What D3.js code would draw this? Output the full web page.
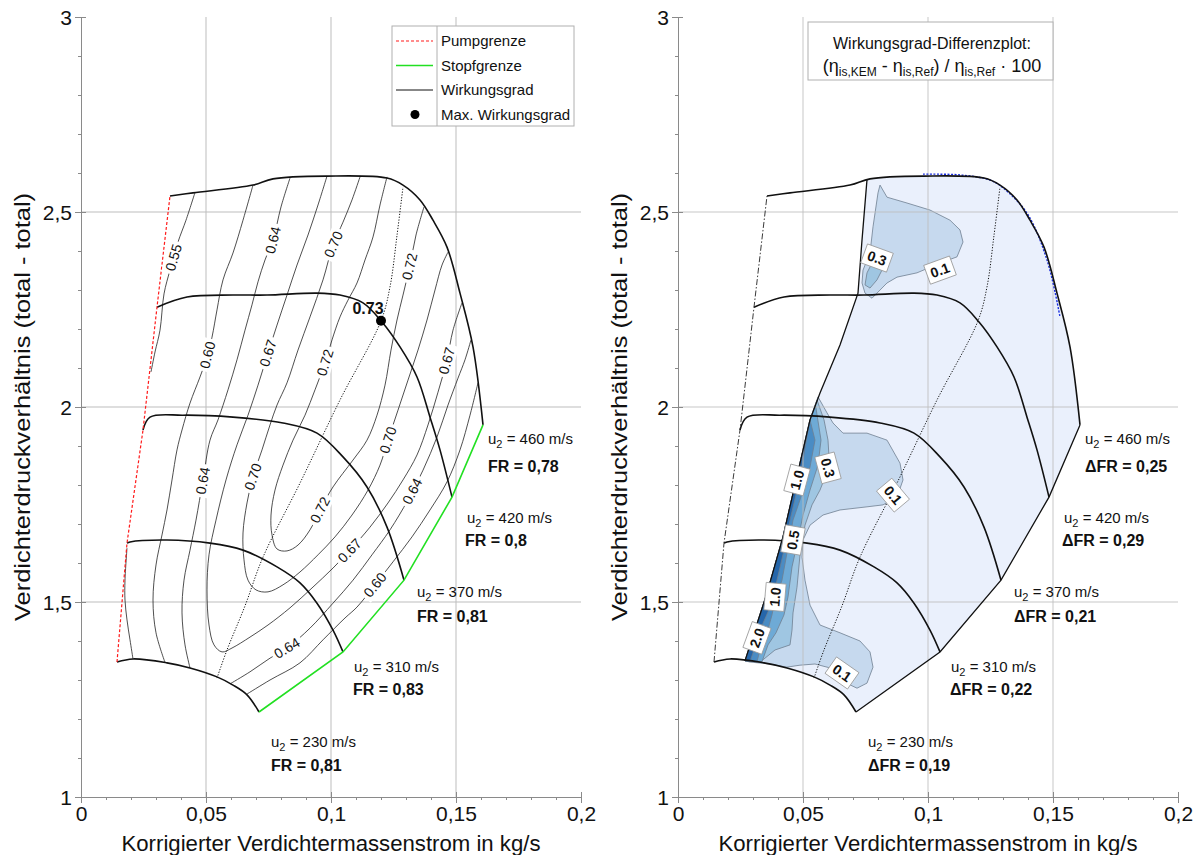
<!DOCTYPE html>
<html>
<head>
<meta charset="utf-8">
<script src="https://cdn.jsdelivr.net/npm/d3@7"></script>
<style>
  body { margin: 0; background: #fff; }
  text { font-family: "Liberation Sans", Arial, sans-serif; fill: #111; }
  .narrow { font-family: "Liberation Sans Narrow", "Arial Narrow", "Liberation Sans", sans-serif; font-stretch: condensed; }
</style>
</head>
<body>
<div id="chart"></div>
<script>
// ---------- data (mass flow kg/s, pressure ratio) ----------
var xTicks = [0, 0.05, 0.1, 0.15, 0.2];
var yTicks = [1, 1.5, 2, 2.5, 3];
var xGrid = [0.05, 0.1, 0.15];
var yGrid = [1.5, 2, 2.5];

var speeds = [230, 310, 370, 420, 460];
var frLeft = ["0,81", "0,83", "0,81", "0,8", "0,78"];
var frRight = ["0,19", "0,22", "0,21", "0,29", "0,25"];
var speedLabelPos = [[0.076, 1.128], [0.1092, 1.321], [0.1344, 1.513], [0.1544, 1.703], [0.1628, 1.905]];
var frLabelPos = [[0.076, 1.067], [0.1088, 1.262], [0.1344, 1.449], [0.1536, 1.644], [0.1628, 1.833]];

// speed lines, surge -> choke
var speed230 = [[.0144,1.346],[.0208,1.354],[.0344,1.344],[.0436,1.331],[.0544,1.308],[.0608,1.287],[.0664,1.262],[.0712,1.218]];
var speed310 = [[.0184,1.651],[.0196,1.654],[.0344,1.659],[.0516,1.651],[.0648,1.633],[.0784,1.59],[.0876,1.549],[.0944,1.497],[.1008,1.428],[.1048,1.372]];
var speed370 = [[.0248,1.941],[.0276,1.974],[.0408,1.979],[.0608,1.974],[.0808,1.959],[.0944,1.933],[.1048,1.872],[.1144,1.795],[.1224,1.692],[.1292,1.556]];
var speed420 = [[.0304,2.256],[.0424,2.282],[.0608,2.287],[.0744,2.287],[.0944,2.292],[.1036,2.287],[.1128,2.267],[.1204,2.218],[.1276,2.154],[.1344,2.077],[.1396,1.974],[.1436,1.89],[.1484,1.769]];
var speed460 = [[.0356,2.541],[.0448,2.549],[.0688,2.569],[.0768,2.585],[.0984,2.592],[.1224,2.587],[.1288,2.569],[.1356,2.531],[.1408,2.479],[.1464,2.41],[.1516,2.292],[.1568,2.154],[.1608,1.954]];
var speedLines = [speed230, speed310, speed370, speed420, speed460];

// line of best efficiency
var bestEffLine = [[.0544,1.305],[.0584,1.377],[.0656,1.49],[.0728,1.615],[.0876,1.805],[.1036,2.018],[.12,2.221],[.1236,2.308],[.1264,2.44],[.1288,2.564]];
var maxPoint = [0.12, 2.221];
var maxLabel = "0.73";
var maxLabelPos = [0.1148, 2.238];

// efficiency contours
var eff055a = [[.0456,2.55],[.042,2.479],[.0388,2.423],[.0356,2.351],[.0332,2.29],[.0316,2.197],[.0296,2.141],[.028,2.09]];
var eff055b = [[.0184,1.638],[.0176,1.556],[.0176,1.505],[.0184,1.454],[.0196,1.403],[.0208,1.354]];
var eff060a = [[.0688,2.569],[.0648,2.479],[.0608,2.395],[.0568,2.326],[.0544,2.249],[.0524,2.179],[.0504,2.128],[.0476,2.077],[.0436,2.01],[.0404,1.941],[.0384,1.89],[.0364,1.813],[.0344,1.736],[.0324,1.672],[.03,1.595],[.0288,1.505],[.03,1.421],[.0336,1.345]];
var eff060b = [[.0664,1.264],[.0756,1.3],[.0876,1.344],[.0968,1.403],[.1056,1.459],[.1104,1.487],[.1176,1.544],[.1248,1.603],[.1324,1.667],[.1396,1.736],[.1464,1.808],[.1516,1.89],[.1556,1.979],[.1588,2.062]];
var eff064a = [[.0836,2.587],[.08,2.513],[.0768,2.428],[.0736,2.377],[.0708,2.321],[.0684,2.262],[.0656,2.197],[.0624,2.121],[.0588,2.044],[.0548,1.967],[.0516,1.915],[.0488,1.813],[.046,1.71],[.0436,1.633],[.0412,1.556],[.0404,1.472],[.0416,1.39],[.0436,1.331]];
var eff064b = [[.0596,1.29],[.0676,1.321],[.0756,1.356],[.0824,1.382],[.0916,1.433],[.1008,1.497],[.1088,1.556],[.1164,1.621],[.1236,1.685],[.1308,1.762],[.1368,1.838],[.1424,1.923],[.1468,2.005],[.1508,2.074],[.1536,2.121],[.156,2.172]];
var eff067 = [[.0984,2.592],[.0948,2.518],[.0908,2.441],[.0864,2.364],[.0824,2.287],[.0784,2.21],[.0748,2.138],[.0708,2.056],[.0668,1.979],[.0624,1.903],[.058,1.813],[.054,1.71],[.0512,1.621],[.0504,1.531],[.0512,1.441],[.0532,1.39],[.0564,1.372],[.0604,1.382],[.0676,1.41],[.0748,1.441],[.0836,1.485],[.0924,1.536],[.1008,1.587],[.1076,1.633],[.1156,1.692],[.1228,1.754],[.1288,1.813],[.1344,1.877],[.1388,1.954],[.1428,2.038],[.1464,2.121],[.1488,2.197],[.1524,2.267]];
var eff070 = [[.1116,2.59],[.1084,2.531],[.1048,2.474],[.1008,2.415],[.0968,2.326],[.0916,2.231],[.0868,2.146],[.0824,2.062],[.0784,2.005],[.0756,1.954],[.0724,1.89],[.0688,1.821],[.0664,1.754],[.0648,1.677],[.0652,1.608],[.0668,1.556],[.07,1.531],[.0748,1.526],[.0808,1.544],[.0876,1.577],[.0948,1.621],[.1016,1.667],[.1084,1.723],[.1148,1.787],[.1196,1.851],[.1228,1.915],[.1268,1.992],[.1308,2.069],[.1348,2.146],[.1384,2.223],[.1416,2.3],[.1444,2.364],[.1468,2.397]];
var eff072 = [[.1224,2.59],[.1196,2.518],[.1168,2.436],[.1136,2.377],[.1104,2.318],[.1068,2.274],[.1036,2.231],[.1004,2.172],[.0976,2.113],[.0936,2.044],[.0896,1.979],[.0848,1.915],[.0808,1.851],[.0776,1.787],[.076,1.723],[.0764,1.672],[.0784,1.636],[.0824,1.631],[.0868,1.646],[.0916,1.685],[.0956,1.736],[.1008,1.795],[.1088,1.864],[.1144,1.915],[.1184,1.979],[.1216,2.056],[.124,2.146],[.1264,2.223],[.1288,2.287],[.1316,2.364],[.134,2.441],[.1372,2.513]];
var effLines = [["0.55", eff055a], ["0.55", eff055b], ["0.60", eff060a], ["0.60", eff060b],
                ["0.64", eff064a], ["0.64", eff064b], ["0.67", eff067], ["0.70", eff070], ["0.72", eff072]];
var effLabels = [["0.55",.0376,2.382],["0.64",.0768,2.428],["0.70",.1016,2.415],["0.72",.1324,2.359],
                 ["0.60",.0508,2.133],["0.67",.0748,2.138],["0.72",.098,2.113],["0.67",.1448,2.121],
                 ["0.64",.0468,1.813],["0.70",.0688,1.821],["0.72",.0956,1.736],["0.70",.1228,1.915],
                 ["0.64",.1316,1.787],["0.67",.1084,1.626],["0.60",.1176,1.544],["0.64",.0824,1.382]];

// reference map (right panel)
var refSurge = [[.0268,1.349],[.0356,1.523],[.042,1.667],[.0488,1.856],[.0528,1.967],[.0568,2.036],[.0648,2.159],[.072,2.292],[.0736,2.428],[.0756,2.583]];
var refTopLine = [[.098,2.597],[.1128,2.595],[.1248,2.582],[.13,2.562],[.1396,2.497],[.1476,2.377],[.1528,2.231]];

// efficiency difference areas in %
var diff01a = [[.056,2.026],[.0596,1.985],[.062,1.959],[.066,1.933],[.0756,1.933],[.0836,1.915],[.0888,1.856],[.09,1.813],[.0876,1.769],[.082,1.749],[.0756,1.744],[.0648,1.736],[.058,1.723],[.0528,1.697],[.05,1.659],[.0496,1.615],[.0508,1.556],[.0528,1.492],[.0568,1.441],[.0648,1.421],[.0728,1.4],[.0768,1.372],[.078,1.333],[.0756,1.292],[.0716,1.279],[.068,1.29],[.0648,1.313],[.0608,1.331],[.0548,1.341],[.0488,1.338],[.0436,1.333],[.0368,1.341],[.0288,1.346],[.0268,1.349],[.0356,1.523],[.042,1.667],[.0488,1.856],[.0528,1.967]];
var diff01b = [[.0808,2.569],[.0836,2.538],[.0916,2.523],[.1008,2.505],[.1088,2.479],[.1128,2.454],[.114,2.423],[.1116,2.385],[.1048,2.369],[.0956,2.344],[.0876,2.333],[.0836,2.318],[.0796,2.292],[.0776,2.279],[.0748,2.292],[.0736,2.318],[.074,2.351],[.0768,2.395],[.078,2.462],[.08,2.549]];
var diff03a = [[.0556,2.018],[.0584,1.967],[.06,1.915],[.0604,1.872],[.0592,1.826],[.0568,1.787],[.0536,1.749],[.0508,1.697],[.0488,1.621],[.0476,1.538],[.046,1.472],[.0456,1.428],[.0448,1.39],[.0388,1.377],[.0348,1.356],[.0328,1.346],[.0268,1.349],[.0356,1.523],[.042,1.667],[.0488,1.856],[.0528,1.967]];
var diff03b = [[.0796,2.377],[.0816,2.351],[.0796,2.326],[.0768,2.305],[.0748,2.313],[.0756,2.344],[.0776,2.369]];
var diff05 = [[.055,2.005],[.0572,1.915],[.056,1.851],[.0528,1.787],[.05,1.723],[.048,1.659],[.0456,1.59],[.044,1.513],[.0424,1.467],[.0392,1.421],[.036,1.39],[.0336,1.347],[.0268,1.349],[.0356,1.523],[.042,1.667],[.0488,1.856],[.0528,1.967]];
var diff10 = [[.0528,1.967],[.0548,1.915],[.0528,1.846],[.0488,1.762],[.046,1.71],[.0436,1.626],[.0416,1.556],[.0388,1.505],[.0376,1.467],[.0356,1.421],[.0328,1.377],[.0316,1.347],[.0268,1.349],[.0356,1.523],[.042,1.667],[.0488,1.856]];
var diff20 = [[.0524,1.954],[.05,1.864],[.0476,1.787],[.0448,1.71],[.0424,1.633],[.0396,1.556],[.0372,1.492],[.0328,1.428],[.0304,1.377],[.0288,1.347],[.0268,1.349],[.0356,1.523],[.042,1.667],[.0488,1.856]];
var diffAreas = [[diff01a, "#c6d9ee"], [diff01b, "#c6d9ee"], [diff03a, "#9fc6e2"], [diff03b, "#9fc6e2"],
                 [diff05, "#6eaad6"], [diff10, "#4a8cc4"], [diff20, "#2566aa"]];
var diffLabels = [["0.3",.0796,2.382,20],["0.1",.1048,2.351,-20],["1.0",.0476,1.813,-75],["0.3",.06,1.844,75],
                  ["0.1",.086,1.774,50],["0.5",.046,1.659,-80],["1.0",.0388,1.513,-85],["2.0",.0316,1.408,-70],["0.1",.0656,1.318,35]];

// ---------- drawing ----------
var W = 1200, H = 855;
var svg = d3.select("#chart").append("svg").attr("width", W).attr("height", H);

function fmt(d) { return String(d).replace(".", ","); }

function makePanel(x0) {
    var x = d3.scaleLinear().domain([0, 0.2]).range([x0, x0 + 500]);
    var y = d3.scaleLinear().domain([1, 3]).range([797, 17]);
    var g = svg.append("g");
    return {x: x, y: y, g: g, x0: x0};
}

function line(p, curve) {
    return d3.line().x(function(d) { return p.x(d[0]); }).y(function(d) { return p.y(d[1]); })
        .curve(curve || d3.curveCatmullRom.alpha(0.5));
}

function drawGrid(p) {
    var gg = p.g.append("g");
    gg.selectAll(".gx").data(xGrid).enter().append("line")
        .attr("x1", function(d) { return p.x(d); }).attr("x2", function(d) { return p.x(d); })
        .attr("y1", p.y(3)).attr("y2", p.y(1))
        .attr("stroke", "#bdbdbd").attr("stroke-width", 1);
    gg.selectAll(".gy").data(yGrid).enter().append("line")
        .attr("x1", p.x(0)).attr("x2", p.x(0.2))
        .attr("y1", function(d) { return p.y(d); }).attr("y2", function(d) { return p.y(d); })
        .attr("stroke", "#bdbdbd").attr("stroke-width", 1);
}

function drawAxes(p) {
    var ax = p.g.append("g");
    // minor ticks
    var yMinor = d3.range(1, 3.001, 0.1);
    var xMinor = d3.range(0, 0.2001, 0.01);
    ax.append("g").attr("transform", "translate(" + p.x(0) + ",0)")
        .call(d3.axisLeft(p.y).tickValues(yMinor).tickSize(3).tickSizeOuter(0).tickFormat(""));
    ax.append("g").attr("transform", "translate(0," + p.y(1) + ")")
        .call(d3.axisBottom(p.x).tickValues(xMinor).tickSize(3).tickSizeOuter(0).tickFormat(""));
    // major ticks inside
    ax.append("g").attr("transform", "translate(" + p.x(0) + ",0)")
        .call(d3.axisRight(p.y).tickValues(yTicks).tickSize(5).tickSizeOuter(0).tickFormat(""));
    ax.append("g").attr("transform", "translate(0," + p.y(1) + ")")
        .call(d3.axisTop(p.x).tickValues(xTicks).tickSize(5).tickSizeOuter(0).tickFormat(""));
    // major ticks with labels
    var ya = ax.append("g").attr("transform", "translate(" + p.x(0) + ",0)")
        .call(d3.axisLeft(p.y).tickValues(yTicks).tickSize(6).tickSizeOuter(0).tickPadding(3).tickFormat(fmt));
    var xa = ax.append("g").attr("transform", "translate(0," + p.y(1) + ")")
        .call(d3.axisBottom(p.x).tickValues(xTicks).tickSize(6).tickSizeOuter(0).tickPadding(3).tickFormat(fmt));
    ax.selectAll("path.domain").attr("stroke", "#8a8a8a");
    ax.selectAll(".tick line").attr("stroke", "#8a8a8a");
    ax.selectAll(".tick text").attr("font-size", 21).attr("fill", "#111")
        .attr("font-family", "'Liberation Sans', Arial, sans-serif");
    ya.selectAll(".tick text").attr("dy", "0.36em");

    p.g.append("text").attr("x", p.x(0.1)).attr("y", 851).attr("text-anchor", "middle")
        .attr("font-size", 22).attr("textLength", 419).attr("lengthAdjust", "spacingAndGlyphs")
        .text("Korrigierter Verdichtermassenstrom in kg/s");
    p.g.append("text").attr("transform", "translate(" + (p.x0 - 51) + "," + p.y(2) + ") rotate(-90)")
        .attr("text-anchor", "middle").attr("font-size", 22)
        .attr("textLength", 428).attr("lengthAdjust", "spacingAndGlyphs")
        .text("Verdichterdruckverhältnis (total - total)");
}

function drawSpeedLines(p) {
    p.g.selectAll(null).data(speedLines).enter().append("path")
        .attr("d", function(d) { return line(p)(d); })
        .attr("fill", "none").attr("stroke", "#111").attr("stroke-width", 1.6);
}

function speedText(p, frs, prefix) {
    speeds.forEach(function(s, i) {
        var t = p.g.append("text").attr("class", "narrow")
            .attr("x", p.x(speedLabelPos[i][0])).attr("y", p.y(speedLabelPos[i][1]))
            .attr("font-size", 15).attr("fill", "#222");
        t.append("tspan").text("u");
        t.append("tspan").attr("font-size", 11).attr("dy", 4).text("2");
        t.append("tspan").attr("dy", -4).text(" = " + s + " m/s");
        p.g.append("text").attr("class", "narrow")
            .attr("x", p.x(frLabelPos[i][0])).attr("y", p.y(frLabelPos[i][1]))
            .attr("font-size", 16).attr("font-weight", "bold")
            .text(prefix + "FR = " + frs[i]);
    });
}

function nearestOnLines(p, lines, px, py) {
    var best = null;
    lines.forEach(function(pts) {
        for (var i = 0; i < pts.length - 1; i++) {
            var ax = p.x(pts[i][0]), ay = p.y(pts[i][1]), bx = p.x(pts[i + 1][0]), by = p.y(pts[i + 1][1]);
            var dx = bx - ax, dy = by - ay, L = dx * dx + dy * dy;
            var t = Math.max(0, Math.min(1, ((px - ax) * dx + (py - ay) * dy) / L));
            var qx = ax + t * dx, qy = ay + t * dy;
            var dd = (qx - px) * (qx - px) + (qy - py) * (qy - py);
            if (!best || dd < best.d) best = {d: dd, x: qx, y: qy, a: Math.atan2(dy, dx) * 180 / Math.PI};
        }
    });
    if (best.a > 90) best.a -= 180;
    if (best.a <= -90) best.a += 180;
    return best;
}

// ================= left panel =================
var L = makePanel(81);
drawGrid(L);
drawAxes(L);

var effG = L.g.append("g");
effLines.forEach(function(e) {
    effG.append("path").attr("d", line(L)(e[1]))
        .attr("fill", "none").attr("stroke", "#222").attr("stroke-width", 0.8);
});
L.g.append("path").attr("d", line(L)(bestEffLine))
    .attr("fill", "none").attr("stroke", "#111").attr("stroke-width", 1).attr("stroke-dasharray", "1.2,1.6");
drawSpeedLines(L);

// surge (Pumpgrenze) and choke (Stopfgrenze)
L.g.append("path").attr("d", line(L, d3.curveLinear)(speedLines.map(function(s) { return s[0]; })))
    .attr("fill", "none").attr("stroke", "#ff1a1a").attr("stroke-width", 1.2).attr("stroke-dasharray", "3,2");
L.g.append("path").attr("d", line(L, d3.curveLinear)(speedLines.map(function(s) { return s[s.length - 1]; })))
    .attr("fill", "none").attr("stroke", "#22e022").attr("stroke-width", 1.6);

// contour labels
effLabels.forEach(function(lb) {
    var lines = effLines.filter(function(e) { return e[0] === lb[0]; }).map(function(e) { return e[1]; });
    var n = nearestOnLines(L, lines, L.x(lb[1]), L.y(lb[2]));
    var g = L.g.append("g").attr("transform", "translate(" + n.x + "," + n.y + ") rotate(" + n.a + ")");
    var r = g.append("rect").attr("fill", "#fff");
    var t = g.append("text").attr("text-anchor", "middle").attr("dy", "0.35em")
        .attr("font-size", 14).attr("fill", "#111").text(lb[0]);
    var w = t.node().getComputedTextLength();
    r.attr("x", -w / 2 - 3).attr("y", -8).attr("width", w + 6).attr("height", 16);
});

L.g.append("circle").attr("cx", L.x(maxPoint[0])).attr("cy", L.y(maxPoint[1])).attr("r", 5).attr("fill", "#000");
L.g.append("text").attr("x", L.x(maxLabelPos[0])).attr("y", L.y(maxLabelPos[1])).attr("text-anchor", "middle")
    .attr("font-size", 16).attr("font-weight", "bold").attr("class", "narrow").text(maxLabel);

speedText(L, frLeft, "");

// legend
var lg = L.g.append("g");
lg.append("rect").attr("x", 392).attr("y", 26).attr("width", 182).attr("height", 100)
    .attr("fill", "#fff").attr("stroke", "#b0b0b0");
lg.append("line").attr("x1", 437).attr("x2", 437).attr("y1", 26).attr("y2", 126).attr("stroke", "#b0b0b0");
var legendItems = [["Pumpgrenze", "red"], ["Stopfgrenze", "green"], ["Wirkungsgrad", "black"], ["Max. Wirkungsgrad", "dot"]];
legendItems.forEach(function(it, i) {
    var yy = 41 + i * 24.5;
    if (it[1] === "red") lg.append("line").attr("x1", 396).attr("x2", 433).attr("y1", yy).attr("y2", yy)
        .attr("stroke", "#ff1a1a").attr("stroke-width", 1.2).attr("stroke-dasharray", "3,2");
    if (it[1] === "green") lg.append("line").attr("x1", 396).attr("x2", 433).attr("y1", yy).attr("y2", yy)
        .attr("stroke", "#22e022").attr("stroke-width", 1.6);
    if (it[1] === "black") lg.append("line").attr("x1", 396).attr("x2", 433).attr("y1", yy).attr("y2", yy)
        .attr("stroke", "#111").attr("stroke-width", 1);
    if (it[1] === "dot") lg.append("circle").attr("cx", 415).attr("cy", yy).attr("r", 4.5).attr("fill", "#000");
    lg.append("text").attr("x", 441).attr("y", yy + 5).attr("font-size", 15).text(it[0]);
});

// ================= right panel =================
var R = makePanel(678);

// region of reference map
var region = refSurge.slice();
var topX = refSurge[refSurge.length - 1][0];
speed460.forEach(function(pt) { if (pt[0] > topX) region.push(pt); });
for (var i = speedLines.length - 2; i >= 0; i--) region.push(speedLines[i][speedLines[i].length - 1]);
speed230.slice(0, speed230.length - 1).reverse().forEach(function(pt) { if (pt[0] > refSurge[0][0]) region.push(pt); });
R.g.append("path").attr("d", line(R, d3.curveLinearClosed)(region)).attr("fill", "#eaf0fc").attr("stroke", "none");

diffAreas.forEach(function(a) {
    R.g.append("path").attr("d", line(R, d3.curveLinearClosed)(a[0]))
        .attr("fill", a[1]).attr("stroke", "#6f7f90").attr("stroke-width", 0.8);
});

drawGrid(R);
R.g.selectAll("line").attr("stroke-opacity", 0.85);
drawAxes(R);

R.g.append("path").attr("d", line(R, d3.curveLinear)(refSurge))
    .attr("fill", "none").attr("stroke", "#111").attr("stroke-width", 1.3);
R.g.append("path").attr("d", line(R)(refTopLine))
    .attr("fill", "none").attr("stroke", "#1a2ee0").attr("stroke-width", 1.4).attr("stroke-dasharray", "2,1.5");
R.g.append("path").attr("d", line(R)(bestEffLine))
    .attr("fill", "none").attr("stroke", "#111").attr("stroke-width", 1).attr("stroke-dasharray", "1.2,1.6");
drawSpeedLines(R);
R.g.append("path").attr("d", line(R, d3.curveLinear)(speedLines.map(function(s) { return s[0]; })))
    .attr("fill", "none").attr("stroke", "#222").attr("stroke-width", 0.9).attr("stroke-dasharray", "6,2,1.5,2");
R.g.append("path").attr("d", line(R, d3.curveLinear)(speedLines.map(function(s) { return s[s.length - 1]; })))
    .attr("fill", "none").attr("stroke", "#111").attr("stroke-width", 1.3);

diffLabels.forEach(function(lb) {
    var g = R.g.append("g").attr("transform", "translate(" + R.x(lb[1]) + "," + R.y(lb[2]) + ") rotate(" + lb[3] + ")");
    var r = g.append("rect").attr("fill", "#fff").attr("stroke", "#9a9a9a").attr("stroke-width", 0.8);
    var t = g.append("text").attr("text-anchor", "middle").attr("dy", "0.36em")
        .attr("font-size", 14).attr("font-weight", "bold").text(lb[0]);
    var w = t.node().getComputedTextLength();
    r.attr("x", -w / 2 - 4).attr("y", -10).attr("width", w + 8).attr("height", 20);
});

speedText(R, frRight, "\u0394");

// title box
var tb = R.g.append("g");
tb.append("rect").attr("x", 808).attr("y", 22).attr("width", 245).attr("height", 58)
    .attr("fill", "#fff").attr("stroke", "#b0b0b0");
tb.append("text").attr("x", 932).attr("y", 49).attr("text-anchor", "middle").attr("font-size", 16)
    .text("Wirkungsgrad-Differenzplot:");
var t2 = tb.append("text").attr("x", 932).attr("y", 72).attr("text-anchor", "middle").attr("font-size", 18);
t2.append("tspan").text("(\u03b7");
t2.append("tspan").attr("font-size", 12).attr("dy", 4).text("is,KEM");
t2.append("tspan").attr("dy", -4).text(" - \u03b7");
t2.append("tspan").attr("font-size", 12).attr("dy", 4).text("is,Ref");
t2.append("tspan").attr("dy", -4).text(") / \u03b7");
t2.append("tspan").attr("font-size", 12).attr("dy", 4).text("is,Ref");
t2.append("tspan").attr("dy", -4).text(" \u00b7 100");
</script>
</body>
</html>
